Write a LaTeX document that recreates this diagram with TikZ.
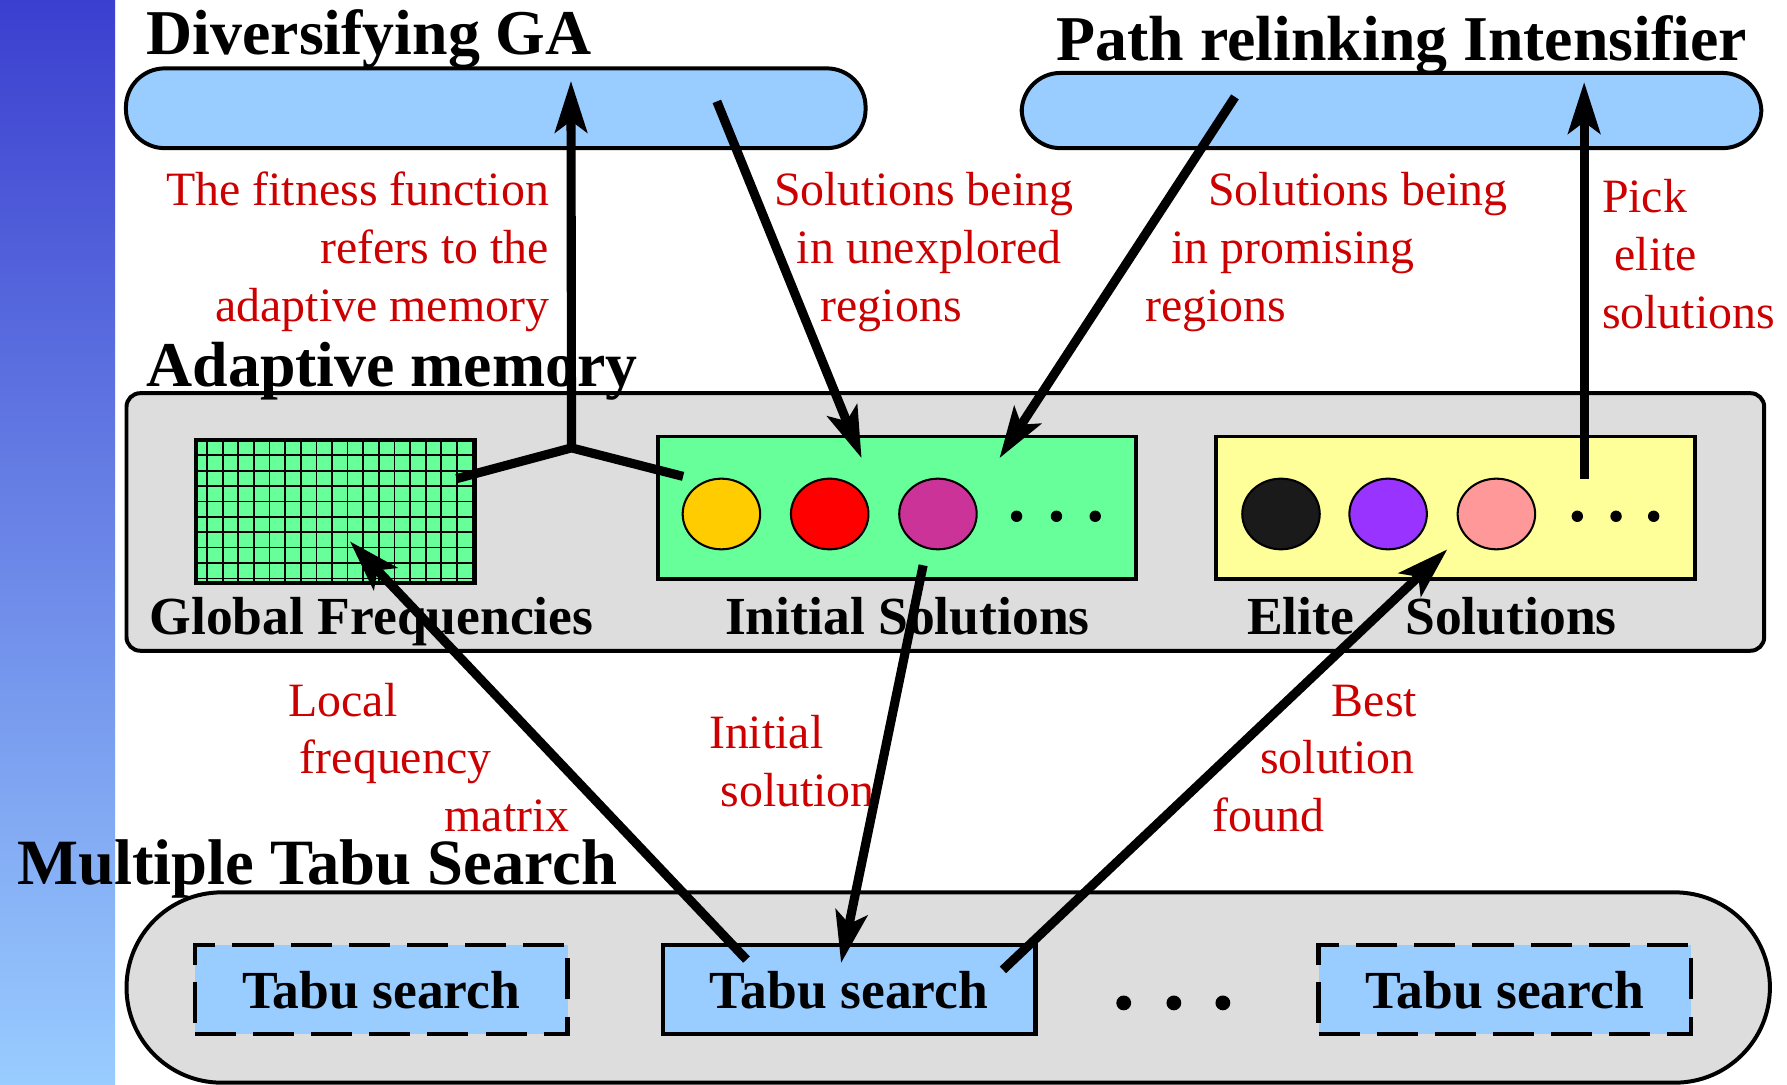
\documentclass[tikz,border=0pt]{standalone}
\usepackage{fontspec}
\setmainfont{Liberation Serif}
\usetikzlibrary{arrows.meta,shapes.geometric}

\definecolor{skyfill}{HTML}{99CCFF}
\definecolor{mintfill}{HTML}{66FF99}
\definecolor{creamfill}{HTML}{FFFF99}
\definecolor{panelgray}{HTML}{DDDDDD}
\definecolor{notered}{HTML}{CC0000}
\definecolor{bartop}{RGB}{59,63,207}
\definecolor{barbottom}{RGB}{153,204,255}
\definecolor{solA}{HTML}{FFCC00}
\definecolor{solB}{HTML}{FF0000}
\definecolor{solC}{HTML}{CC3399}
\definecolor{solD}{HTML}{1A1A1A}
\definecolor{solE}{HTML}{9933FF}
\definecolor{solF}{HTML}{FF9999}

\newcommand\dgTitle{\fontsize{56}{60}\selectfont\bfseries}
\newcommand\dgLabel{\fontsize{47}{50}\selectfont\bfseries}
\newcommand\dgNote{\fontsize{42}{50}\selectfont}

\begin{document}
\begin{tikzpicture}[x=1pt,y=-1pt,
  flow/.style={line width=8pt,-{Stealth[length=45pt,width=28pt,inset=10pt]}},
  pill/.style={draw,line width=3.5pt,fill=skyfill,rounded corners=34pt,
    minimum width=649pt,minimum height=70pt,inner sep=0pt},
  panel/.style={draw,line width=3.5pt,fill=panelgray,inner sep=0pt},
  store/.style={draw,line width=3.5pt,minimum width=420pt,minimum height=125pt,inner sep=0pt},
  sol/.style={ellipse,draw,line width=1.8pt,minimum width=68pt,minimum height=62pt,inner sep=0pt},
  ddot/.style={circle,fill=black,inner sep=0pt,minimum size=10pt},
  bigdot/.style={circle,fill=black,inner sep=0pt,minimum size=13pt},
  tabu/.style={draw,line width=3.8pt,fill=skyfill,minimum width=327pt,minimum height=78pt,
    inner sep=0pt,text height=34pt,text depth=0pt,font=\dgLabel},
  loose/.style={dash pattern=on 36pt off 15pt},
  heading/.style={font=\dgTitle,inner sep=0pt,anchor=base west},
  caption/.style={font=\dgLabel,inner sep=0pt,anchor=base west},
  note/.style={text=notered,font=\dgNote,inner sep=0pt,anchor=base west},
  noteR/.style={text=notered,font=\dgNote,inner sep=0pt,anchor=base east},
]
\useasboundingbox (0,0) rectangle (1568,952);

% side band
\shade[top color=bartop,bottom color=barbottom] (0,0) rectangle (101,952);

% upper components
\node[pill] (ga) at (435,95) {};
\node[pill,minimum height=66pt] (pr) at (1221,97) {};
\node[heading] (gaTitle) at (128.5,47.4) {Diversifying GA};
\node[heading] (prTitle) at (927,53) {Path relinking Intensifier};

% adaptive memory panel
\node[panel,rounded corners=12pt,minimum width=1437pt,minimum height=226pt] (am) at (829.5,458) {};
\node[heading] (amTitle) at (128.5,338.7) {Adaptive memory};

% global frequency matrix
\node[fill=mintfill,minimum width=245pt,minimum height=125pt,inner sep=0pt] (gf) at (294.5,448.5) {};
\foreach \k in {0,...,17}
  \draw[line width=1.5pt] ({414.6-13.7*\k},386) -- ({414.6-13.7*\k},511);
\foreach \k in {1,...,9}
  \draw[line width=1.5pt] (172,{386+13.5*\k}) -- (417,{386+13.5*\k});
\draw[line width=3.5pt] (gf.north west) rectangle (gf.south east);
\node[caption] (gfLabel) at (131,557) {Global Frequencies};

% initial solutions
\node[store,fill=mintfill] (init) at (787,445.5) {};
\node[sol,fill=solA] (i1) at (633,451) {};
\node[sol,fill=solB] (i2) at (728,451) {};
\node[sol,fill=solC] (i3) at (823,451) {};
\node[ddot] (id1) at (892,453) {};
\node[ddot] (id2) at (927,453) {};
\node[ddot] (id3) at (961,453) {};
\node[caption] (initLabel) at (636,557) {Initial Solutions};

% elite solutions
\node[store,fill=creamfill] (elite) at (1277,445.5) {};
\node[sol,fill=solD] (e1) at (1124,451) {};
\node[sol,fill=solE] (e2) at (1218,451) {};
\node[sol,fill=solF] (e3) at (1313,451) {};
\node[ddot] (ed1) at (1384,453) {};
\node[ddot] (ed2) at (1418,453) {};
\node[ddot] (ed3) at (1451,453) {};
\node[caption] (eliteLabel) at (1094,557) {Elite\hspace{45pt}Solutions};

% multiple tabu search
\node[panel,rounded corners=83.5pt,minimum width=1442pt,minimum height=167pt] (mts) at (832,866.5) {};
\node[heading,font=\fontsize{56.7}{60}\selectfont\bfseries] (mtsTitle) at (15,775.8) {Multiple Tabu Search};
\node[tabu,loose] (ts1) at (334.5,868) {Tabu search};
\node[tabu] (ts2) at (745,868) {Tabu search};
\node[tabu,loose] (ts3) at (1320.5,868) {Tabu search};
\node[bigdot] (td1) at (986,880) {};
\node[bigdot] (td2) at (1030,880) {};
\node[bigdot] (td3) at (1073,880) {};

% notes
\node[noteR] (n1a) at (482,180) {The fitness function};
\node[noteR] (n1b) at (482,231) {refers to the};
\node[noteR] (n1c) at (482,282) {adaptive memory};
\node[note] (n2a) at (679,180) {Solutions being};
\node[note] (n2b) at (699,231) {in unexplored};
\node[note] (n2c) at (720,282) {regions};
\node[note] (n3a) at (1060,180) {Solutions being};
\node[note] (n3b) at (1027.5,231) {in promising};
\node[note] (n3c) at (1004.6,282) {regions};
\node[note] (n4a) at (1405.5,186.6) {Pick};
\node[note] (n4b) at (1416.6,237) {elite};
\node[note] (n4c) at (1405.5,288) {solutions};
\node[note] (n5a) at (253,628.8) {Local};
\node[note] (n5b) at (263,679) {frequency};
\node[note] (n5c) at (390,729.7) {matrix};
\node[note] (n6a) at (622,657) {Initial};
\node[note] (n6b) at (632,708) {solution};
\node[note] (n7a) at (1168.5,628.8) {Best};
\node[note] (n7b) at (1105.5,679) {solution};
\node[note] (n7c) at (1063.5,729.7) {found};

% connector ends
\coordinate (gfTap) at (400.6,420);
\coordinate (hub) at (501.5,393);
\coordinate (initTap) at (599.4,418);
\coordinate (gaIn) at (501,71);
\coordinate (gaOut) at (629,89);
\coordinate (initInA) at (756,402);
\coordinate (prOut) at (1083.6,85);
\coordinate (initInB) at (877,402);
\coordinate (eliteOut) at (1390,420);
\coordinate (prIn) at (1390,72);
\coordinate (tsOutA) at (655,842);
\coordinate (gfIn) at (307,475);
\coordinate (initOut) at (810,496);
\coordinate (tsIn) at (738,845);
\coordinate (tsOutB) at (880,851);
\coordinate (eliteIn) at (1270,482);

% connectors
\draw[line width=8pt,line join=miter] (gfTap) -- (hub) -- (initTap);
\draw[flow] (hub) -- (gaIn);
\draw[flow] (gaOut) -- (initInA);
\draw[flow] (prOut) -- (initInB);
\draw[flow] (eliteOut) -- (prIn);
\draw[flow] (tsOutA) -- (gfIn);
\draw[flow] (initOut) -- (tsIn);
\draw[flow] (tsOutB) -- (eliteIn);
\end{tikzpicture}
\end{document}
